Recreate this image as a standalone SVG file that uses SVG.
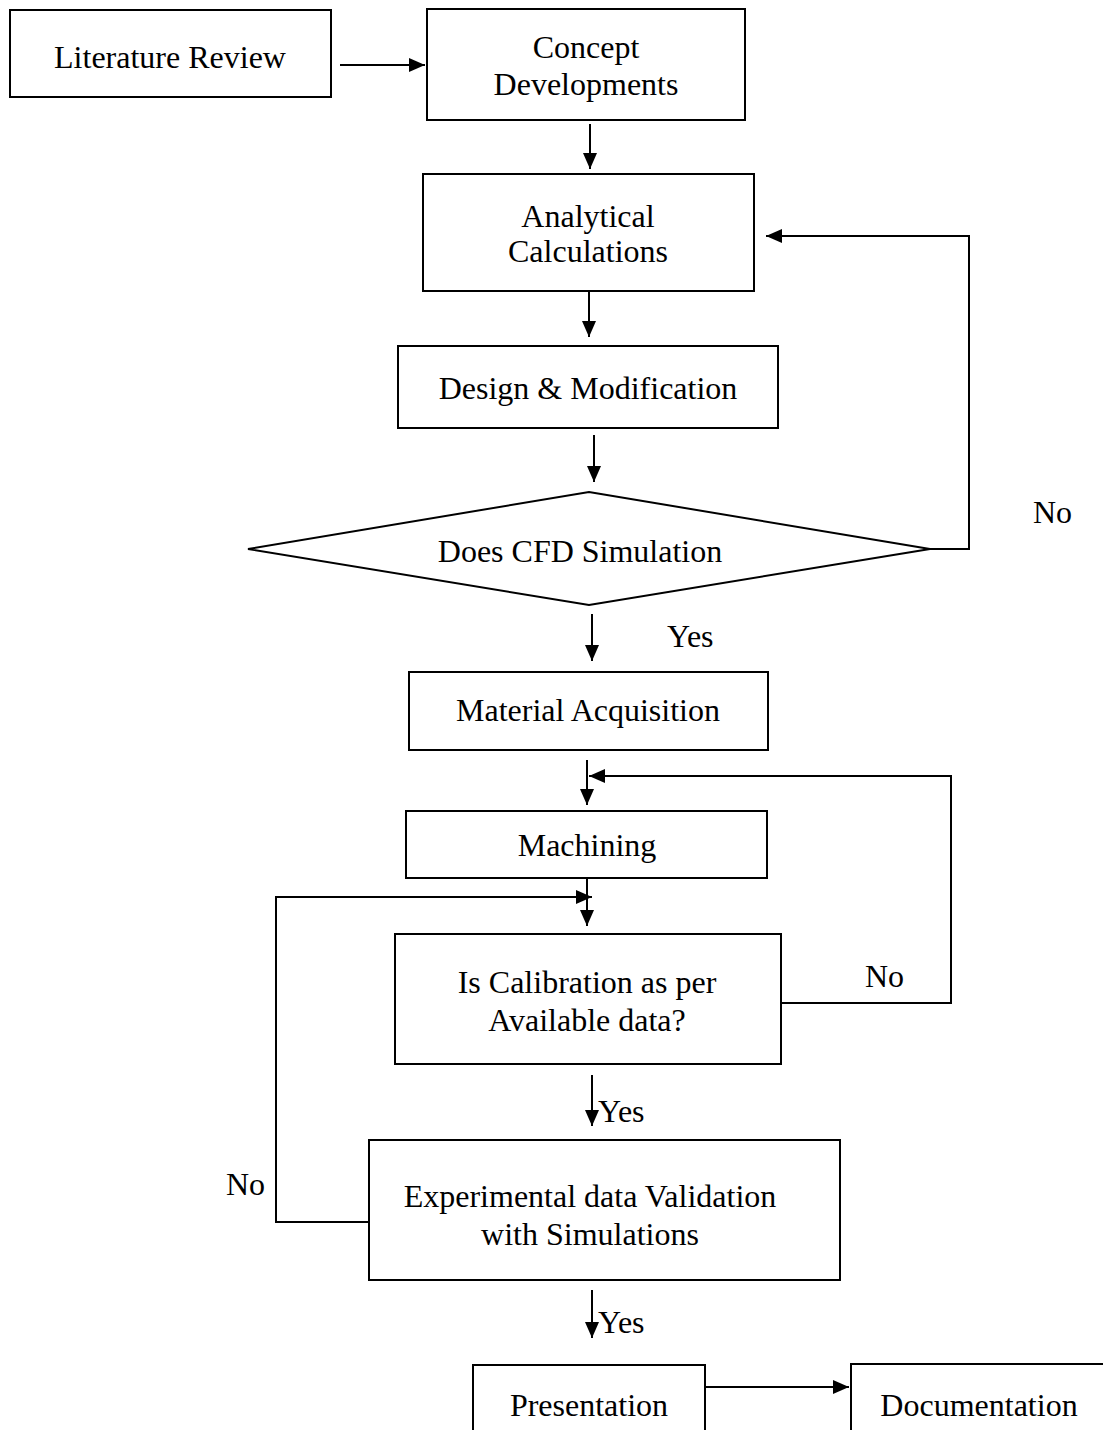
<svg xmlns="http://www.w3.org/2000/svg" width="1103" height="1430" viewBox="0 0 1103 1430">
<style>
.box{fill:#fff;stroke:#000;stroke-width:2}
.t{font-family:"Liberation Serif","Times New Roman",serif;font-size:32px;fill:#000;text-anchor:middle}
.lbl{font-family:"Liberation Serif","Times New Roman",serif;font-size:32px;fill:#000}
.c{fill:none;stroke:#000;stroke-width:2}
</style>
<defs>
<marker id="ah" markerUnits="userSpaceOnUse" markerWidth="16" markerHeight="16" refX="16" refY="8" orient="auto">
<path d="M0,1 L16,8 L0,15 Z" fill="#000"/>
</marker>
</defs>
<rect width="1103" height="1430" fill="#fff"/>
<g id="n-literature">
<rect class="box" x="10" y="10" width="321" height="87"/>
<text class="t" x="170" y="68">Literature Review</text>
</g>
<g id="n-concept">
<rect class="box" x="427" y="9" width="318" height="111"/>
<text class="t" x="586" y="58">Concept</text>
<text class="t" x="586" y="95">Developments</text>
</g>
<g id="n-analytical">
<rect class="box" x="423" y="174" width="331" height="117"/>
<text class="t" x="588" y="227">Analytical</text>
<text class="t" x="588" y="262">Calculations</text>
</g>
<g id="n-design">
<rect class="box" x="398" y="346" width="380" height="82"/>
<text class="t" x="588" y="399">Design &amp; Modification</text>
</g>
<g id="n-cfd">
<polygon class="box" points="248,549 589,492 930,549 589,605"/>
<text class="t" x="580" y="562">Does CFD Simulation</text>
</g>
<g id="n-material">
<rect class="box" x="409" y="672" width="359" height="78"/>
<text class="t" x="588" y="721">Material Acquisition</text>
</g>
<g id="n-machining">
<rect class="box" x="406" y="811" width="361" height="67"/>
<text class="t" x="587" y="856">Machining</text>
</g>
<g id="n-calibration">
<rect class="box" x="395" y="934" width="386" height="130"/>
<text class="t" x="587" y="993">Is Calibration as per</text>
<text class="t" x="587" y="1031">Available data?</text>
</g>
<g id="n-experimental">
<rect class="box" x="369" y="1140" width="471" height="140"/>
<text class="t" x="590" y="1207">Experimental data Validation</text>
<text class="t" x="590" y="1245">with Simulations</text>
</g>
<g id="n-presentation">
<rect class="box" x="473" y="1365" width="232" height="80"/>
<text class="t" x="589" y="1416">Presentation</text>
</g>
<g id="n-documentation">
<rect class="box" x="851" y="1364" width="270" height="80"/>
<text class="t" x="979" y="1416">Documentation</text>
</g>
<g id="connectors">
<line class="c" x1="340" y1="65" x2="425" y2="65" marker-end="url(#ah)"/>
<line class="c" x1="590" y1="124" x2="590" y2="169" marker-end="url(#ah)"/>
<line class="c" x1="589" y1="292" x2="589" y2="337" marker-end="url(#ah)"/>
<line class="c" x1="594" y1="435" x2="594" y2="482" marker-end="url(#ah)"/>
<polyline class="c" points="930,549 969,549 969,236 766,236" marker-end="url(#ah)"/>
<line class="c" x1="592" y1="614" x2="592" y2="661" marker-end="url(#ah)"/>
<line class="c" x1="587" y1="760" x2="587" y2="805" marker-end="url(#ah)"/>
<polyline class="c" points="781,1003 951,1003 951,776 589,776" marker-end="url(#ah)"/>
<line class="c" x1="587" y1="878" x2="587" y2="926" marker-end="url(#ah)"/>
<polyline class="c" points="369,1222 276,1222 276,897 592,897" marker-end="url(#ah)"/>
<line class="c" x1="592" y1="1075" x2="592" y2="1126" marker-end="url(#ah)"/>
<line class="c" x1="592" y1="1290" x2="592" y2="1338" marker-end="url(#ah)"/>
<line class="c" x1="705" y1="1387" x2="849" y2="1387" marker-end="url(#ah)"/>
</g>
<g id="labels">
<text class="lbl" x="1033" y="523">No</text>
<text class="lbl" x="667" y="647">Yes</text>
<text class="lbl" x="865" y="987">No</text>
<text class="lbl" x="598" y="1122">Yes</text>
<text class="lbl" x="226" y="1195">No</text>
<text class="lbl" x="598" y="1333">Yes</text>
</g>
</svg>
